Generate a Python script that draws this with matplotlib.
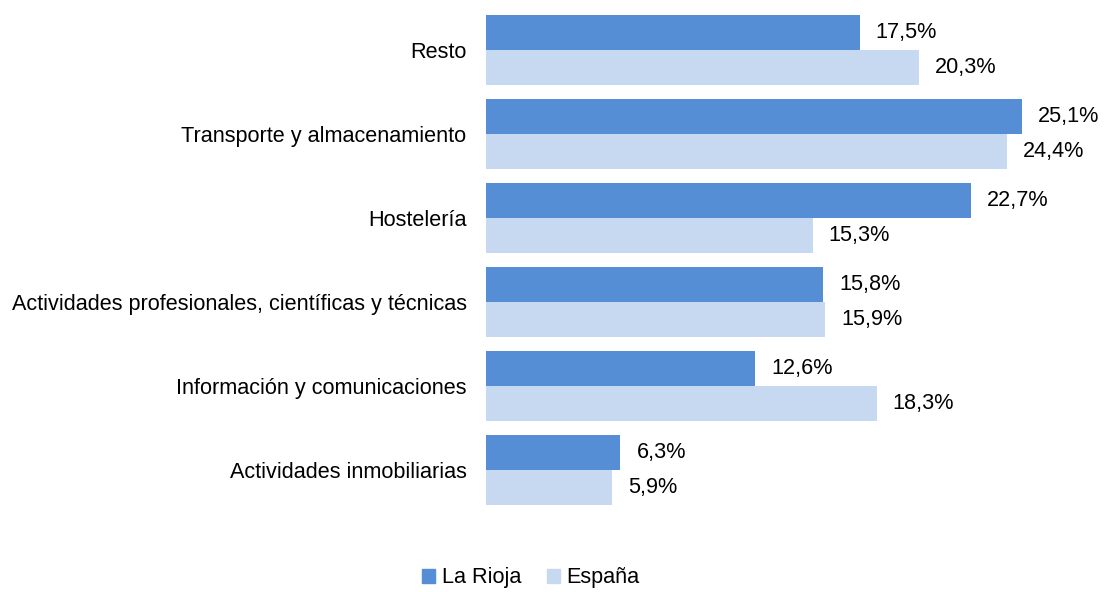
import numpy as np
import matplotlib.pyplot as plt
from matplotlib.patches import Patch

plt.rcParams['font.family'] = ['Liberation Sans', 'DejaVu Sans']

# ---------------- data (bottom to top) ----------------
categories = ['Actividades inmobiliarias', 'Información y comunicaciones',
              'Actividades profesionales, científicas y técnicas', 'Hostelería',
              'Transporte y almacenamiento', 'Resto']
la_rioja = [6.3, 12.6, 15.8, 22.7, 25.1, 17.5]
espana = [5.9, 18.3, 15.9, 15.3, 24.4, 20.3]
series_names = ['La Rioja', 'España']

c_dark = '#558ED5'
c_light = '#C6D9F1'
FS = 15.6

fig = plt.figure(figsize=(11.04, 5.92), dpi=100)
ax = fig.add_axes([0.4402, 0.1351, 0.5028, 0.8514])

y = np.arange(len(categories))
h = 0.4167
ax.barh(y + h / 2, la_rioja, height=h, color=c_dark)
ax.barh(y - h / 2, espana, height=h, color=c_light)

for yy, v in zip(y + h / 2, la_rioja):
    ax.annotate(f'{v:.1f}%'.replace('.', ','), (v, yy), xytext=(11.5, 0),
                textcoords='offset points', va='center', ha='left',
                fontsize=FS, annotation_clip=False)
for yy, v in zip(y - h / 2, espana):
    ax.annotate(f'{v:.1f}%'.replace('.', ','), (v, yy), xytext=(11.5, 0),
                textcoords='offset points', va='center', ha='left',
                fontsize=FS, annotation_clip=False)

ax.set_xlim(0, 26)
ax.set_ylim(-0.5, 5.5)
ax.set_yticks(y)
ax.set_yticklabels(categories, fontsize=FS)
ax.set_xticks([])
ax.tick_params(axis='y', length=0, pad=14)
for s in ax.spines.values():
    s.set_visible(False)

handles = [Patch(color=c_dark), Patch(color=c_light)]
fig.legend(handles, series_names, loc='center', bbox_to_anchor=(0.481, 0.024),
           ncol=2, frameon=False, fontsize=FS, handlelength=0.6,
           handleheight=0.6, handletextpad=0.3, columnspacing=1.2)

fig.savefig('out.png', dpi=100)
